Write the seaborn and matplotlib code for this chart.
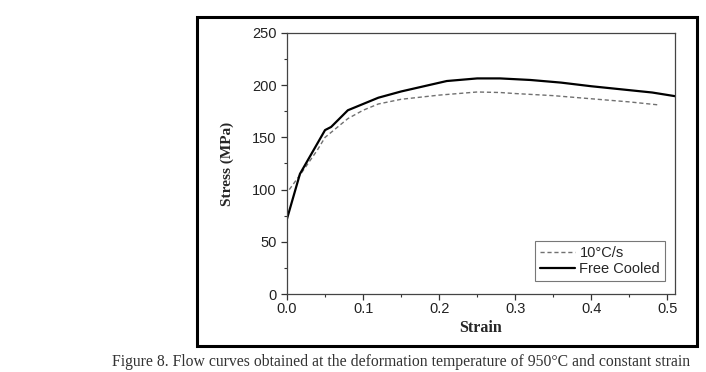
import numpy as np
import pandas as pd
import seaborn as sns
import matplotlib.pyplot as plt
from matplotlib.patches import Rectangle

# flow curves
strain_free = [0.0, 0.017, 0.05, 0.058, 0.08, 0.1, 0.12, 0.15, 0.18, 0.21, 0.25, 0.28, 0.32, 0.36, 0.4, 0.44, 0.48, 0.51]
stress_free = [72, 115, 157, 160, 176, 182, 188, 194, 199, 204, 206.5, 206.5, 205, 202.5, 199, 196, 193, 189.5]

strain_10 = [0.003, 0.02, 0.04, 0.05, 0.08, 0.1, 0.12, 0.15, 0.2, 0.25, 0.28, 0.3, 0.35, 0.4, 0.45, 0.49]
stress_10 = [100, 117, 138, 150, 168, 176, 182, 186.5, 190.5, 193.5, 193, 192, 190, 187, 184, 181]

labels = ['10°C/s', 'Free Cooled']
# the caption runs off the page in the source; keep the visible part
caption = 'Figure 8. Flow curves obtained at the deformation temperature of 950°C and constant strain'

sns.set_style('ticks')
plt.rcParams['font.family'] = ['Liberation Sans', 'DejaVu Sans']

fig = plt.figure(figsize=(7.06, 3.72), dpi=100)
ax = fig.add_axes([287 / 706, 1 - 294 / 372, (675 - 287) / 706, (294 - 33) / 372])

df10 = pd.DataFrame({'strain': strain_10, 'stress': stress_10})
dff = pd.DataFrame({'strain': strain_free, 'stress': stress_free})
sns.lineplot(data=df10, x='strain', y='stress', ax=ax, sort=False, estimator=None,
             color='#707070', lw=1.0, linestyle=(0, (3, 2)), label=labels[0])
sns.lineplot(data=dff, x='strain', y='stress', ax=ax, sort=False, estimator=None,
             color='black', lw=1.6, label=labels[1])

ax.set_xlim(0, 0.51)
ax.set_ylim(0, 250)
ax.set_xticks([0.0, 0.1, 0.2, 0.3, 0.4, 0.5])
ax.set_xticks(np.arange(0.05, 0.51, 0.1), minor=True)
ax.set_yticks([0, 50, 100, 150, 200, 250])
ax.set_yticks(np.arange(25, 250, 50), minor=True)
ax.set_xticklabels(['0.0', '0.1', '0.2', '0.3', '0.4', '0.5'])
ax.tick_params(which='major', length=4, width=0.9, color='#333333', labelsize=10.5, labelcolor='#222222')
ax.tick_params(axis='x', which='major', pad=2)
ax.tick_params(which='minor', length=2.5, width=0.8, color='#333333')
for s in ax.spines.values():
    s.set_color('#444444')
    s.set_linewidth(0.9)

ax.set_xlabel('Strain', family='Liberation Serif', fontweight='bold', fontsize=11.5, labelpad=3)
ax.set_ylabel('Stress (MPa)', family='Liberation Serif', fontweight='bold', fontsize=11, labelpad=13)

leg = ax.legend(loc='lower right', bbox_to_anchor=(0.975, 0.05), borderaxespad=0, fontsize=10.5,
                frameon=True, fancybox=False, edgecolor='#555555', handlelength=2.4,
                handletextpad=0.3, borderpad=0.35, labelspacing=0.1)
leg.get_frame().set_linewidth(0.8)

# outer frame around the figure panel
fig.patches.append(Rectangle((197 / 706, 1 - 346 / 372), 500 / 706, 329 / 372,
                             transform=fig.transFigure, fill=False, lw=2.2, ec='black'))

fig.text(112 / 706, 1 - 362 / 372, caption, family='Liberation Serif', fontsize=11.3,
         color='#333333', va='center', ha='left')

fig.savefig('out.png', dpi=100)
